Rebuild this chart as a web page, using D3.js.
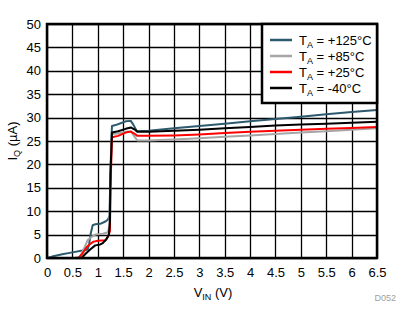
<!DOCTYPE html>
<html><head><meta charset="utf-8">
<script src="https://cdn.jsdelivr.net/npm/d3@7"></script>
<style>body{margin:0;background:#fff}svg{display:block;font-family:"Liberation Sans",Arial,sans-serif}</style>
</head><body><svg id="c" width="416" height="324"></svg>
<script>
const xTicks = [0,0.5,1,1.5,2,2.5,3,3.5,4,4.5,5,5.5,6,6.5];
const yTicks = [0,5,10,15,20,25,30,35,40,45,50];
const seriesNames = ["+125°C","+85°C","+25°C","-40°C"];
const seriesColors = ["#2E5A6E","#A6A6A6","#FF0000","#000000"];
const t125 = [[0,0],[0.1,0.3],[0.3,0.8],[0.5,1.2],[0.7,1.6],[0.8,1.8],[0.83,3],[0.86,5.2],[0.9,7],[0.95,7.2],[1.05,7.3],[1.15,7.8],[1.2,8.2],[1.23,9],[1.25,18],[1.27,26],[1.28,28.2],[1.35,28.4],[1.45,28.8],[1.55,29.2],[1.65,29.3],[1.7,28.5],[1.77,27.1],[2,27.2],[2.5,27.7],[3,28.2],[3.5,28.7],[4,29.2],[4.5,29.7],[5,30.2],[5.5,30.7],[6,31.2],[6.5,31.6]];
const t85 = [[0.55,0],[0.65,0.3],[0.75,2.5],[0.8,3.8],[0.85,4.3],[0.95,5],[1.1,5.2],[1.2,5.5],[1.23,7],[1.25,16],[1.27,24],[1.28,26.5],[1.4,26.6],[1.55,27],[1.65,27.1],[1.72,26],[1.78,25.1],[2,25.1],[2.5,25.3],[3,25.6],[3.5,25.9],[4,26.2],[4.5,26.5],[5,26.8],[5.5,27.1],[6,27.4],[6.5,27.7]];
const t25 = [[0.62,0],[0.7,1],[0.78,2.3],[0.85,3],[0.92,3.5],[1,3.7],[1.15,3.8],[1.2,4.5],[1.24,5.8],[1.25,15],[1.27,22],[1.28,25.8],[1.4,26.1],[1.55,26.8],[1.65,27],[1.72,26.6],[1.78,26.1],[2,26.1],[2.5,26.2],[3,26.4],[3.5,26.7],[4,27],[4.5,27.2],[5,27.4],[5.5,27.6],[6,27.8],[6.5,28]];
const tm40 = [[0.68,0],[0.75,0.8],[0.85,1.8],[0.95,2.7],[1.05,2.9],[1.1,3.2],[1.17,4],[1.22,5],[1.24,8],[1.25,18],[1.27,24],[1.28,26.8],[1.4,27.1],[1.55,27.6],[1.65,27.9],[1.72,27.5],[1.78,27],[2,27],[2.5,27.2],[3,27.4],[3.5,27.7],[4,28],[4.5,28.3],[5,28.5],[5.5,28.7],[6,28.9],[6.5,29.1]];
const seriesData = [t125,t85,t25,tm40];

const svg = d3.select("#c");
const L=47,R=377,T=24,B=258;
const x = d3.scaleLinear().domain([0,6.5]).range([L,R]);
const y = d3.scaleLinear().domain([0,50]).range([B,T]);

// grid
svg.append("g").selectAll("line").data(xTicks).join("line")
  .attr("x1",d=>Math.round(x(d))+0.5).attr("x2",d=>Math.round(x(d))+0.5)
  .attr("y1",T).attr("y2",B).attr("stroke","#000").attr("stroke-width",1.3);
svg.append("g").selectAll("line").data(yTicks).join("line")
  .attr("y1",d=>Math.round(y(d))+0.5).attr("y2",d=>Math.round(y(d))+0.5)
  .attr("x1",L).attr("x2",R).attr("stroke","#000").attr("stroke-width",1.3);

// axes labels
const xa = svg.append("g").attr("transform",`translate(0,${B})`)
  .call(d3.axisBottom(x).tickValues(xTicks).tickSize(0).tickPadding(10).tickFormat(d=>String(d)));
xa.select(".domain").remove();
xa.selectAll("text").attr("font-size",13).attr("font-family","Liberation Sans, Arial, sans-serif").attr("fill","#000");
const ya = svg.append("g").attr("transform",`translate(${L},0)`)
  .call(d3.axisLeft(y).tickValues(yTicks).tickSize(0).tickPadding(6).tickFormat(d=>String(d)));
ya.select(".domain").remove();
ya.selectAll("text").attr("font-size",13).attr("font-family","Liberation Sans, Arial, sans-serif").attr("fill","#000");

// lines
const line = d3.line().x(d=>x(d[0])).y(d=>y(d[1]));
svg.append("g").selectAll("path").data(seriesData).join("path")
  .attr("d",line).attr("fill","none")
  .attr("stroke",(d,i)=>seriesColors[i]).attr("stroke-width",2).attr("stroke-linejoin","round");

// border
svg.append("rect").attr("x",L).attr("y",T).attr("width",R-L).attr("height",B-T)
  .attr("fill","none").attr("stroke","#000").attr("stroke-width",2.5);

// legend
const lg = svg.append("g");
lg.append("rect").attr("x",262).attr("y",T).attr("width",R-262).attr("height",79)
  .attr("fill","#fff").attr("stroke","#000").attr("stroke-width",2.5);
seriesNames.forEach((n,i)=>{
  const yy = 40 + i*16;
  lg.append("line").attr("x1",270).attr("x2",292).attr("y1",yy).attr("y2",yy)
    .attr("stroke",seriesColors[i]).attr("stroke-width",2.5);
  const t = lg.append("text").attr("x",299).attr("y",yy+5).attr("font-size",13).attr("fill","#000");
  t.append("tspan").text("T");
  t.append("tspan").attr("font-size",9).attr("dy",3).text("A");
  t.append("tspan").attr("dy",-3).text(" = " + n);
});

// axis titles
const xt = svg.append("text").attr("x",213).attr("y",297).attr("text-anchor","middle").attr("font-size",13);
xt.append("tspan").text("V");
xt.append("tspan").attr("font-size",9).attr("dy",3).text("IN");
xt.append("tspan").attr("dy",-3).text(" (V)");
const yt = svg.append("text").attr("transform",`translate(17,${(T+B)/2}) rotate(-90)`).attr("text-anchor","middle").attr("font-size",13);
yt.append("tspan").text("I");
yt.append("tspan").attr("font-size",9).attr("dy",3).text("Q");
yt.append("tspan").attr("dy",-3).text(" (µA)");

svg.append("text").attr("x",396).attr("y",301).attr("text-anchor","end").attr("font-size",9).attr("fill","#A0A0A0").text("D052");
</script></body></html>
